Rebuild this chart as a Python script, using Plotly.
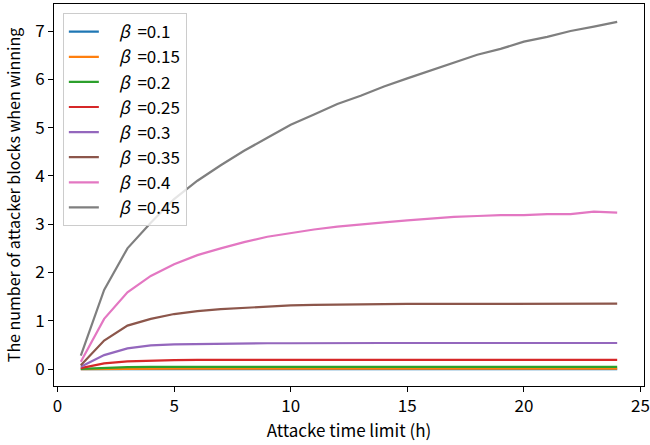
import plotly.graph_objects as go

hours = list(range(1, 25))
betas = ["0.1", "0.15", "0.2", "0.25", "0.3", "0.35", "0.4", "0.45"]
colors = ["#1f77b4", "#ff7f0e", "#2ca02c", "#d62728", "#9467bd", "#8c564b", "#e377c2", "#7f7f7f"]

b010 = [0.0] * 24
b015 = [0.0, 0.005, 0.007, 0.008, 0.008, 0.008, 0.008, 0.008, 0.008, 0.008, 0.008, 0.008,
        0.008, 0.008, 0.008, 0.008, 0.008, 0.008, 0.008, 0.008, 0.008, 0.008, 0.008, 0.008]
b020 = [0.005, 0.03, 0.04, 0.045, 0.047, 0.048, 0.048, 0.048, 0.048, 0.048, 0.048, 0.048,
        0.048, 0.048, 0.048, 0.048, 0.048, 0.048, 0.048, 0.048, 0.048, 0.048, 0.048, 0.048]
b025 = [0.02, 0.12, 0.16, 0.18, 0.185, 0.19, 0.19, 0.19, 0.192, 0.192, 0.192, 0.19,
        0.192, 0.192, 0.19, 0.192, 0.192, 0.19, 0.19, 0.19, 0.19, 0.19, 0.19, 0.19]
b030 = [0.05, 0.29, 0.43, 0.49, 0.51, 0.52, 0.53, 0.53, 0.535, 0.535, 0.54, 0.54,
        0.54, 0.54, 0.54, 0.54, 0.535, 0.535, 0.535, 0.535, 0.535, 0.54, 0.54, 0.54]
b035 = [0.08, 0.59, 0.9, 1.04, 1.14, 1.2, 1.24, 1.27, 1.3, 1.32, 1.33, 1.34,
        1.34, 1.345, 1.35, 1.35, 1.35, 1.36, 1.355, 1.36, 1.365, 1.355, 1.355, 1.355]
b040 = [0.15, 1.04, 1.59, 1.93, 2.17, 2.36, 2.5, 2.63, 2.74, 2.82, 2.89, 2.95,
        3.0, 3.04, 3.08, 3.12, 3.15, 3.17, 3.19, 3.19, 3.21, 3.21, 3.26, 3.24]
b045 = [0.28, 1.64, 2.5, 3.03, 3.52, 3.9, 4.22, 4.52, 4.79, 5.06, 5.27, 5.49,
        5.66, 5.85, 6.02, 6.18, 6.35, 6.51, 6.63, 6.78, 6.88, 7.0, 7.09, 7.19]
series = [b010, b015, b020, b025, b030, b035, b040, b045]

x_ticks = [0, 5, 10, 15, 20, 25]
y_ticks = [0, 1, 2, 3, 4, 5, 6, 7]

FONT = "Noto Sans CJK JP"
PAD = "\u00a0" * 4

fig = go.Figure()
for b, c, ys in zip(betas, colors, series):
    fig.add_trace(go.Scatter(x=hours, y=ys, mode="lines",
                             name=PAD + "<i>β</i>\u00a0\u00a0=" + b,
                             line=dict(color=c, width=2.2)))

axis_common = dict(showline=True, linecolor="black", linewidth=1, mirror=True,
                   ticks="outside", ticklen=5, tickwidth=1, tickcolor="black",
                   showgrid=False, zeroline=False, automargin=False,
                   tickfont=dict(family=FONT, size=17, color="black"))

fig.update_xaxes(range=[-0.15, 25.15], tickvals=x_ticks,
                 title=dict(text="Attacke time limit (h)", font=dict(family=FONT, size=17, color="black"),
                            standoff=2),
                 **axis_common)
fig.update_yaxes(range=[-0.35, 7.56], tickvals=y_ticks,
                 title=dict(text="The number of attacker blocks when winning",
                            font=dict(family=FONT, size=16, color="black"), standoff=10),
                 **axis_common)

fig.update_layout(
    width=650, height=445,
    margin=dict(l=54, r=6, t=4, b=59),
    plot_bgcolor="white", paper_bgcolor="white",
    font=dict(family=FONT, size=16, color="black"),
    legend=dict(x=0.015, y=0.976, xanchor="left", yanchor="top",
                bgcolor="rgba(255,255,255,0.8)", bordercolor="#cccccc", borderwidth=1,
                font=dict(family=FONT, size=17, color="black"),
                tracegroupgap=0, itemwidth=30),
    showlegend=True,
)

fig.write_html("out.html", config={"displayModeBar": False},
               post_script="document.body.style.margin='0';document.body.style.padding='0';")
